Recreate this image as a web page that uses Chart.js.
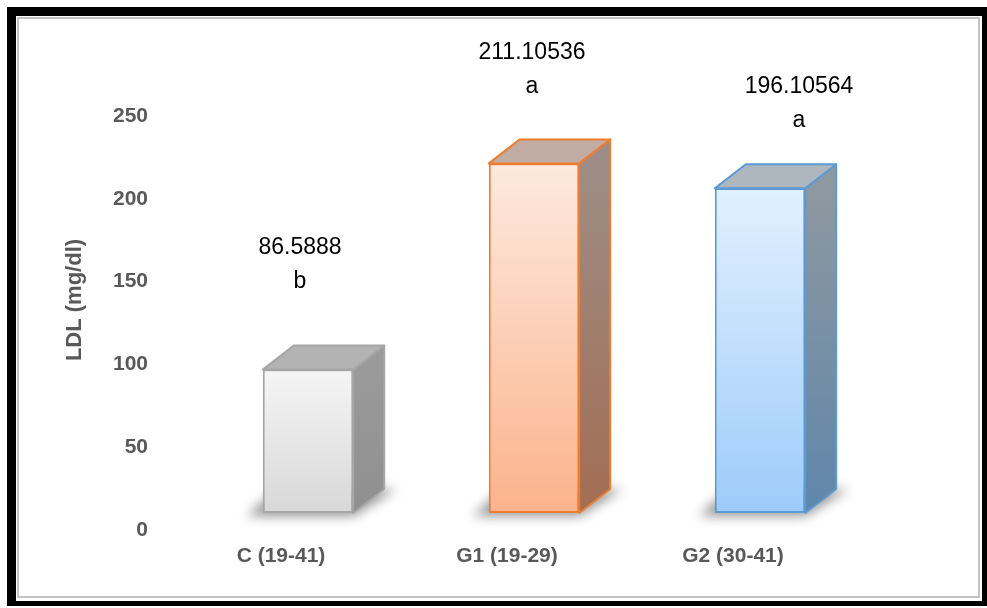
<!DOCTYPE html>
<html>
<head>
<meta charset="utf-8">
<script src="https://cdn.jsdelivr.net/npm/chart.js@4.4.1/dist/chart.umd.min.js"></script>
<style>
  html, body { margin: 0; padding: 0; background: #fff; }
  canvas { display: block; }
</style>
</head>
<body>
<canvas id="ldl" width="987" height="608"></canvas>
<script>
const groups = ["C (19-41)", "G1 (19-29)", "G2 (30-41)"];
const ldlMeans = [86.5888, 211.10536, 196.10564];
const letters = ["b", "a", "a"];
const yTicks = [0, 50, 100, 150, 200, 250];

// per bar: front gradient, outline, side face gradient, top face
const palette = [
  { light: "#f5f5f5", dark: "#d8d8d8", edge: "#a6a6a6", sideTop: "#9a9a9a", sideBot: "#8f8f8f", lid: "#b3b3b3" },
  { light: "#fde9df", dark: "#fbb38c", edge: "#ed7d31", sideTop: "#9d8d86", sideBot: "#a36d52", lid: "#c1aca3" },
  { light: "#e2f0fe", dark: "#9dcbfa", edge: "#5b9bd5", sideTop: "#8e98a0", sideBot: "#5f86aa", lid: "#afb7be" }
];

const FONT = "'Liberation Sans', Arial, sans-serif";
const DEPTH_X = 31, DEPTH_Y = -24;   // receding edges of each box
const SHIFT_X = 27, SHIFT_Y = -17;   // front faces sit up and right of the floor line
const labelNudge = [[-8, -12], [-2, 0], [39, 9]];

function frontFill(c) {
  const p = palette[c.dataIndex];
  const ys = c.chart.scales.y;
  if (!ys || ys.bottom === undefined) return p.dark;
  const top = ys.getPixelForValue(ldlMeans[c.dataIndex]);
  const bottom = ys.getPixelForValue(0);
  const g = c.chart.ctx.createLinearGradient(0, top, 0, bottom);
  g.addColorStop(0, p.light);
  g.addColorStop(1, p.dark);
  return g;
}

function face(bar) {
  const l = bar.x - bar.width / 2 + SHIFT_X;
  const r = bar.x + bar.width / 2 + SHIFT_X;
  return { l, r, t: bar.y + SHIFT_Y, b: bar.base + SHIFT_Y };
}

const boxes = {
  id: "boxes",
  beforeDraw(chart) {
    const ctx = chart.ctx;
    ctx.save();
    ctx.fillStyle = "#fff";
    ctx.fillRect(0, 0, chart.width, chart.height);
    // heavy black outer frame with thin grey inner line
    ctx.fillStyle = "#000";
    ctx.fillRect(7, 7, 980, 599);
    ctx.fillStyle = "#fff";
    ctx.fillRect(16, 16, 966, 585);
    ctx.strokeStyle = "#c4c4c4";
    ctx.lineWidth = 2;
    ctx.strokeRect(18, 18, 961, 579);
    // axis title
    ctx.translate(75, 300);
    ctx.rotate(-Math.PI / 2);
    ctx.fillStyle = "#595959";
    ctx.font = "bold 22px " + FONT;
    ctx.textAlign = "center";
    ctx.textBaseline = "middle";
    ctx.fillText("LDL (mg/dl)", 0, 0);
    ctx.restore();
  },
  beforeDatasetsDraw(chart) {
    const ctx = chart.ctx;
    // soft floor shadow under each box
    chart.getDatasetMeta(0).data.forEach((bar) => {
      const f = face(bar);
      ctx.save();
      ctx.filter = "blur(6px)";
      ctx.fillStyle = "rgba(0,0,0,0.42)";
      ctx.beginPath();
      ctx.moveTo(f.l - 16, f.b + 3);
      ctx.lineTo(f.r, f.b + 3);
      ctx.lineTo(f.r + DEPTH_X + 12, f.b + DEPTH_Y);
      ctx.lineTo(f.l + DEPTH_X - 16, f.b + DEPTH_Y);
      ctx.closePath();
      ctx.fill();
      ctx.restore();
    });
    ctx.save();
    ctx.translate(SHIFT_X, SHIFT_Y);
  },
  afterDatasetsDraw(chart) {
    const ctx = chart.ctx;
    ctx.restore();
    chart.getDatasetMeta(0).data.forEach((bar, i) => {
      const p = palette[i];
      const f = face(bar);
      ctx.save();
      ctx.lineJoin = "round";
      ctx.lineWidth = 2;
      ctx.strokeStyle = p.edge;
      // side face
      const g = ctx.createLinearGradient(0, f.t, 0, f.b);
      g.addColorStop(0, p.sideTop);
      g.addColorStop(1, p.sideBot);
      ctx.beginPath();
      ctx.moveTo(f.r, f.t);
      ctx.lineTo(f.r + DEPTH_X, f.t + DEPTH_Y);
      ctx.lineTo(f.r + DEPTH_X, f.b + DEPTH_Y);
      ctx.lineTo(f.r, f.b);
      ctx.closePath();
      ctx.fillStyle = g;
      ctx.fill();
      ctx.stroke();
      // top face
      ctx.beginPath();
      ctx.moveTo(f.l, f.t);
      ctx.lineTo(f.l + DEPTH_X, f.t + DEPTH_Y);
      ctx.lineTo(f.r + DEPTH_X, f.t + DEPTH_Y);
      ctx.lineTo(f.r, f.t);
      ctx.closePath();
      ctx.fillStyle = p.lid;
      ctx.fill();
      ctx.stroke();
      // value and significance letter
      const cx = (f.l + f.r) / 2 + labelNudge[i][0];
      const base = f.t - 104 + labelNudge[i][1];
      ctx.fillStyle = "#000";
      ctx.font = "23px " + FONT;
      ctx.textAlign = "center";
      ctx.textBaseline = "alphabetic";
      ctx.fillText(String(ldlMeans[i]), cx, base);
      ctx.fillText(letters[i], cx, base + 34);
      ctx.restore();
    });
  }
};

const tickFont = { family: FONT, size: 21, weight: "bold" };

new Chart(document.getElementById("ldl"), {
  type: "bar",
  data: {
    labels: groups,
    datasets: [{
      data: ldlMeans,
      backgroundColor: frontFill,
      borderColor: palette.map((p) => p.edge),
      borderWidth: 2,
      borderSkipped: false,
      categoryPercentage: 1,
      barPercentage: 0.4,
      clip: false
    }]
  },
  options: {
    responsive: false,
    animation: false,
    devicePixelRatio: 1,
    layout: { padding: { left: 50, right: 141, top: 116, bottom: 0 } },
    plugins: { legend: { display: false }, tooltip: { enabled: false } },
    scales: {
      x: {
        grid: { display: false, drawTicks: false },
        border: { display: false },
        ticks: { color: "#595959", font: tickFont, padding: 14 },
        afterFit(s) { s.height = 78; }
      },
      y: {
        min: 0,
        max: 250,
        afterBuildTicks(s) { s.ticks = yTicks.map((v) => ({ value: v })); },
        grid: { display: false, drawTicks: false },
        border: { display: false },
        ticks: { color: "#595959", font: tickFont, padding: 20 },
        afterFit(s) { s.width = 118; }
      }
    }
  },
  plugins: [boxes]
});
</script>
</body>
</html>
